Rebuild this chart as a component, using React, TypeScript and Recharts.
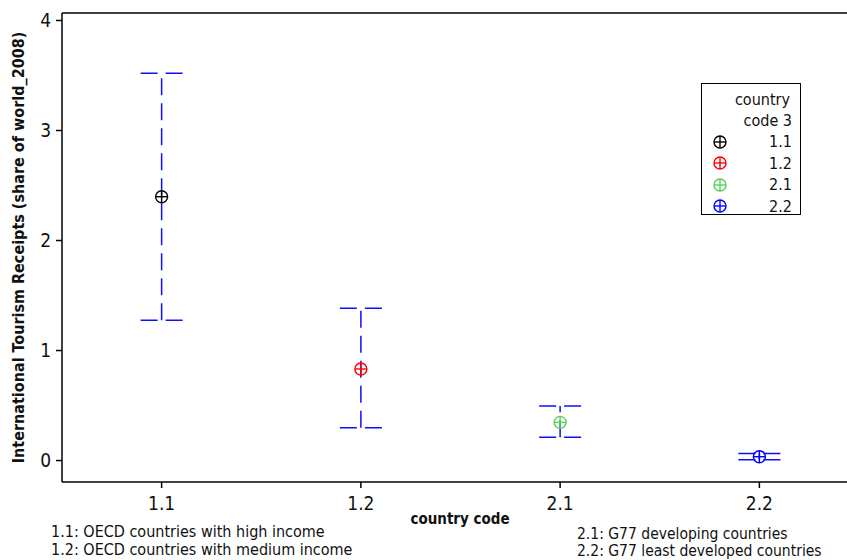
import { ScatterChart, Scatter, XAxis, YAxis, ErrorBar, ReferenceLine, Customized } from 'recharts';

// country codes, group means and the ends of the interval bars
const codes = ['1.1', '1.2', '2.1', '2.2'];
const means = [2.398, 0.832, 0.347, 0.035];
const uppers = [3.52, 1.384, 0.495, 0.065];
const lowers = [1.275, 0.298, 0.211, 0.007];
const colors = ['#000000', '#ff0000', '#5ccc5c', '#0000ff'];
const yTicks = [0, 1, 2, 3, 4];
const yDomain = [-0.195, 4.068];

const notesLeft = ['1.1: OECD countries with high income', '1.2: OECD countries with medium income'];
const notesRight = ['2.1: G77 developing countries', '2.2: G77 least developed countries'];

const series = codes.map((c, i) => ({
  code: c,
  color: colors[i],
  data: [{ x: i, y: means[i], err: [means[i] - lowers[i], uppers[i] - means[i]] }],
}));

const FONT = '"DejaVu Sans Condensed", "DejaVu Sans", Verdana, sans-serif';

function CrossCircle({ cx, cy, color }: { cx: number; cy: number; color: string }) {
  return (
    <g stroke={color} strokeWidth={1.4} fill="none">
      <circle cx={cx} cy={cy} r={6} />
      <line x1={cx - 6} y1={cy} x2={cx + 6} y2={cy} />
      <line x1={cx} y1={cy - 6} x2={cx} y2={cy + 6} />
    </g>
  );
}

function LegendBox() {
  return (
    <div
      style={{
        position: 'absolute',
        left: 701,
        top: 83,
        width: 100,
        height: 132,
        border: '1px solid #000',
        boxSizing: 'border-box',
        background: '#fff',
        fontFamily: FONT,
        fontStretch: 'condensed',
        fontSize: 16,
        color: '#111',
        padding: '5px 8px 0 10px',
        lineHeight: '21px',
      }}
    >
      <div style={{ textAlign: 'right', paddingRight: 2 }}>country</div>
      <div style={{ textAlign: 'right' }}>code 3</div>
      {series.map((s) => (
        <div key={s.code} style={{ display: 'flex', justifyContent: 'space-between', alignItems: 'center', height: 21.5 }}>
          <svg width={16} height={16}>
            <CrossCircle cx={8} cy={8} color={s.color} />
          </svg>
          <span>{s.code}</span>
        </div>
      ))}
    </div>
  );
}

function Notes() {
  return (
    <g fontFamily={FONT} fill="#111" style={{ fontStretch: 'condensed' }}>
      <text x={460} y={524} fontSize={15} fontWeight="bold" textAnchor="middle">country code</text>
      {notesLeft.map((t, i) => (
        <text key={t} x={51} y={537 + i * 18} fontSize={16}>{t}</text>
      ))}
      {notesRight.map((t, i) => (
        <text key={t} x={577} y={539 + i * 17} fontSize={15.5}>{t}</text>
      ))}
    </g>
  );
}

export default function App() {
  return (
    <div style={{ position: 'relative', width: 847, height: 560, overflow: 'hidden', background: '#fff', fontFamily: FONT }}>
      <style>{'html, body { margin: 0; padding: 0; overflow: hidden; }'}</style>
      <ScatterChart width={900} height={560} margin={{ top: 13, right: 41, bottom: 38, left: 0 }}>
        <XAxis
          type="number"
          dataKey="x"
          domain={[-0.5, 3.5]}
          ticks={[0, 1, 2, 3]}
          tickFormatter={(v: number) => codes[v]}
          allowDataOverflow
          height={40}
          stroke="#000"
          strokeWidth={1.5}
          tickSize={6}
          tickMargin={9}
          tick={{ fontSize: 19, fill: '#111', fontFamily: FONT, style: { fontStretch: 'condensed' } }}
        />
        <YAxis
          type="number"
          dataKey="y"
          domain={yDomain}
          ticks={yTicks}
          allowDataOverflow
          width={62}
          stroke="#000"
          strokeWidth={1.5}
          tickSize={6}
          tickMargin={5}
          tick={{ fontSize: 19, fill: '#111', fontFamily: FONT, style: { fontStretch: 'condensed' } }}
          label={{
            content: ({ viewBox }: any) => {
              const cy = viewBox.y + viewBox.height / 2;
              return (
                <text
                  x={18}
                  y={cy}
                  transform={`rotate(-90, 18, ${cy})`}
                  textAnchor="middle"
                  dominantBaseline="central"
                  fontSize={16}
                  fontWeight="bold"
                  fontFamily={FONT}
                  style={{ fontStretch: 'condensed' }}
                  fill="#111"
                >
                  International Tourism Receipts (share of world_2008)
                </text>
              );
            },
          }}
        />
        <ReferenceLine y={yDomain[1]} stroke="#000" strokeWidth={1.5} ifOverflow="extendDomain" />
        {series.map((s) => (
          <Scatter
            key={s.code}
            name={s.code}
            data={s.data}
            isAnimationActive={false}
            shape={(p: any) => <CrossCircle cx={p.cx} cy={p.cy} color={s.color} />}
          >
            <ErrorBar
              dataKey="err"
              direction="y"
              width={21}
              stroke="#0f0fff"
              strokeWidth={1.5}
              strokeDasharray="17 8"
              isAnimationActive={false}
            />
          </Scatter>
        ))}
        <Customized component={Notes} />
      </ScatterChart>
      <LegendBox />
    </div>
  );
}
